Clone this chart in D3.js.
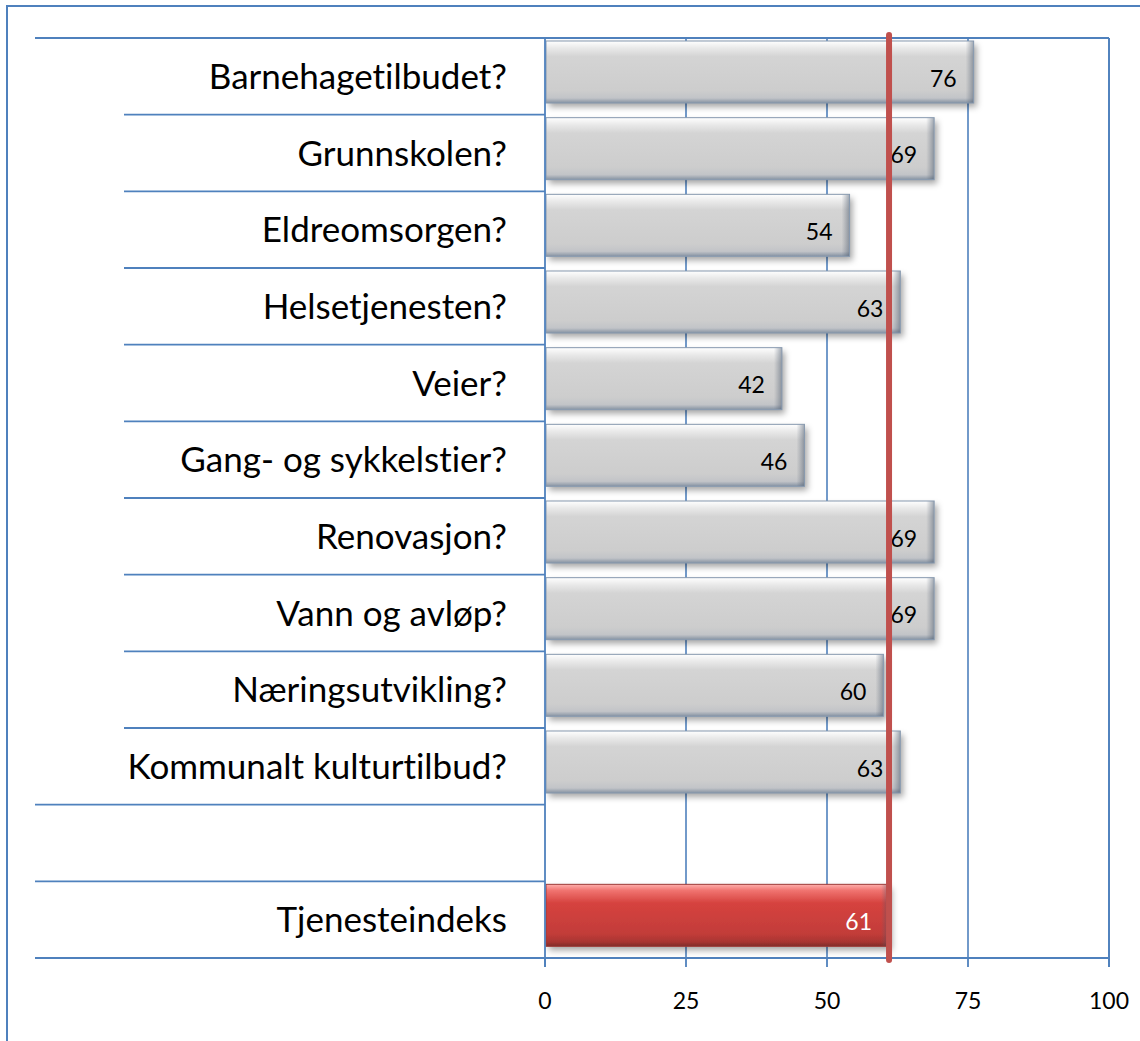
<!DOCTYPE html>
<html><head><meta charset="utf-8">
<script src="https://cdn.jsdelivr.net/npm/d3@7"></script>
<style>body{margin:0;background:#fff}svg{display:block}text{font-variant-ligatures:none;font-feature-settings:"liga" 0,"clig" 0}</style>
</head><body>
<script>
const categories = ["Barnehagetilbudet?","Grunnskolen?","Eldreomsorgen?","Helsetjenesten?","Veier?","Gang- og sykkelstier?","Renovasjon?","Vann og avløp?","Næringsutvikling?","Kommunalt kulturtilbud?","","Tjenesteindeks"];
const values = [76,69,54,63,42,46,69,69,60,63,null,61];
const highlight = ["Tjenesteindeks"];
const groupSizes = [10,1,1];
const refValue = 61;
const xTicks = [0,25,50,75,100];

const W=1140,H=1041;
const FONT="Lato, 'Open Sans', sans-serif";
const svg=d3.select("body").append("svg").attr("width",W).attr("height",H);
const defs=svg.append("defs");
const gg=defs.append("linearGradient").attr("id","gGrey").attr("x1",0).attr("y1",0).attr("x2",0).attr("y2",1);
[[0,"#ffffff"],[0.12,"#e8e8e8"],[0.25,"#d4d4d4"],[0.8,"#cdcdcd"],[0.92,"#c2c4c8"],[1,"#8592a2"]].forEach(s=>gg.append("stop").attr("offset",s[0]).attr("stop-color",s[1]));
const gr=defs.append("linearGradient").attr("id","gRed").attr("x1",0).attr("y1",0).attr("x2",0).attr("y2",1);
[[0,"#ffb0ad"],[0.1,"#f07370"],[0.3,"#d6433f"],[0.8,"#c23c39"],[0.93,"#a83532"],[1,"#7d2b2a"]].forEach(s=>gr.append("stop").attr("offset",s[0]).attr("stop-color",s[1]));
const gs=defs.append("linearGradient").attr("id","gSide").attr("x1",0).attr("y1",0).attr("x2",1).attr("y2",0);
[[0,"rgba(90,100,115,0)"],[1,"rgba(70,85,105,0.5)"]].forEach(s=>gs.append("stop").attr("offset",s[0]).attr("stop-color",s[1]));
const f=defs.append("filter").attr("id","sh").attr("x","-5%").attr("y","-20%").attr("width","115%").attr("height","150%");
f.append("feDropShadow").attr("dx",3).attr("dy",4).attr("stdDeviation",3).attr("flood-color","#000").attr("flood-opacity",0.35);

const blue="#4f81bd";
svg.append("rect").attr("x",7).attr("y",6).attr("width",1160).attr("height",1100).attr("fill","none").attr("stroke",blue).attr("stroke-width",2);

const x=d3.scaleLinear().domain([0,100]).range([545,1109]);
const y=d3.scaleBand().domain(categories.map((c,i)=>i)).range([38,958]).padding(0);

svg.append("g").selectAll("line").data(xTicks.slice(1)).join("line")
 .attr("x1",d=>x(d)).attr("x2",d=>x(d)).attr("y1",38).attr("y2",958)
 .attr("stroke",blue).attr("stroke-width",1.6);

const outer=new Set([0]); let acc=0; groupSizes.forEach(n=>{acc+=n;outer.add(acc);});
const bounds=d3.range(categories.length+1);
svg.append("g").selectAll("line").data(bounds).join("line")
 .attr("x1",i=>outer.has(i)?35:124).attr("x2",i=>i===categories.length?1109:x(0))
 .attr("y1",i=>i<categories.length?y(i):958).attr("y2",i=>i<categories.length?y(i):958)
 .attr("stroke",blue).attr("stroke-width",1.8);
svg.append("line").attr("x1",x(0)).attr("x2",1109).attr("y1",38).attr("y2",38).attr("stroke",blue).attr("stroke-width",1.8);

const bh=62;
const bars=svg.append("g").selectAll("g").data(values.map((v,i)=>({v,i,c:categories[i]})).filter(d=>d.v!=null)).join("g");
bars.append("rect").attr("x",x(0)+1).attr("y",d=>y(d.i)+3).attr("width",d=>x(d.v)-x(0)-1).attr("height",bh)
 .attr("fill",d=>highlight.includes(d.c)?"url(#gRed)":"url(#gGrey)").attr("filter","url(#sh)");
bars.append("rect").attr("x",d=>x(d.v)-8).attr("y",d=>y(d.i)+3).attr("width",8).attr("height",bh).attr("fill","url(#gSide)");
bars.append("rect").attr("x",x(0)+1).attr("y",d=>y(d.i)+3).attr("width",d=>x(d.v)-x(0)-1).attr("height",bh)
 .attr("fill","none").attr("stroke",d=>highlight.includes(d.c)?"#9c3a38":"#8698ae").attr("stroke-width",1);
bars.append("text").attr("x",d=>x(d.v)-17).attr("y",d=>y(d.i)+y.bandwidth()/2+2).attr("dy","0.36em")
 .attr("text-anchor","end").attr("font-family",FONT).attr("font-size",23)
 .attr("fill",d=>highlight.includes(d.c)?"#fff":"#000").text(d=>d.v);

svg.append("line").attr("x1",x(0)).attr("x2",x(0)).attr("y1",38).attr("y2",967).attr("stroke",blue).attr("stroke-width",1.8);
svg.append("line").attr("x1",1109).attr("x2",1109).attr("y1",38).attr("y2",967).attr("stroke",blue).attr("stroke-width",1.8);
svg.append("g").selectAll("line").data(xTicks).join("line").attr("x1",d=>x(d)).attr("x2",d=>x(d)).attr("y1",958).attr("y2",967).attr("stroke",blue).attr("stroke-width",1.8);
svg.append("g").selectAll("text").data(xTicks).join("text").attr("x",d=>x(d)).attr("y",1009)
 .attr("text-anchor","middle").attr("font-family",FONT).attr("font-size",23).attr("fill","#000").text(d=>d);

svg.append("g").selectAll("text").data(categories).join("text")
 .attr("x",507).attr("y",(c,i)=>y(i)+y.bandwidth()/2).attr("dy","0.36em").attr("text-anchor","end")
 .attr("font-family",FONT).attr("font-size",35).attr("fill","#000").text(c=>c);

svg.append("line").attr("x1",x(refValue)).attr("x2",x(refValue)).attr("y1",35).attr("y2",960)
 .attr("stroke","#c0504d").attr("stroke-width",6).attr("stroke-linecap","round");
</script>
</body></html>
